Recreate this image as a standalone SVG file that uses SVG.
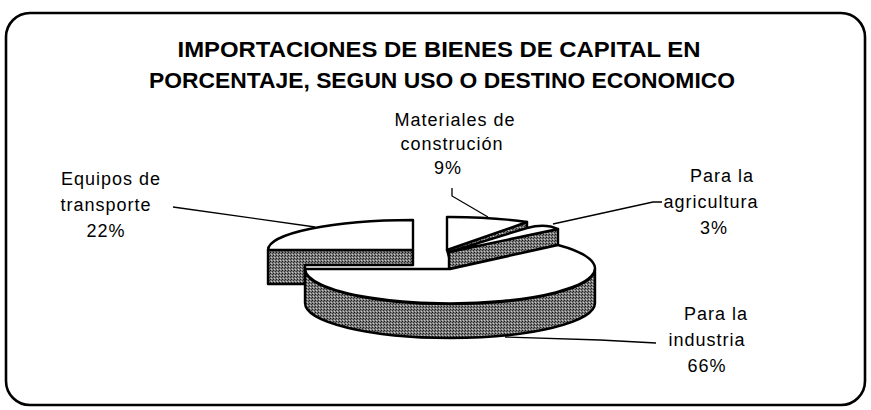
<svg xmlns="http://www.w3.org/2000/svg" width="871" height="410" viewBox="0 0 871 410">
<defs>
<pattern id="halftone" width="3" height="3" patternUnits="userSpaceOnUse">
<rect width="3" height="3" fill="#7c7c7c"/>
<rect x="0" y="0" width="1" height="1" fill="#1a1a1a"/>
<rect x="2" y="1" width="1" height="1" fill="#333333"/>
<rect x="1" y="2" width="1" height="1" fill="#c8c8c8"/>
</pattern>
</defs>
<style>
.frame{fill:#fff;stroke:#000;stroke-width:2.6}
.title{font-family:"Liberation Sans",Arial,sans-serif;font-weight:bold;font-size:22px;fill:#000;text-anchor:middle}
.lbl{font-family:"Liberation Sans",Arial,sans-serif;font-size:18px;letter-spacing:1px;fill:#000;text-anchor:middle}
.top{fill:#fff;stroke:#000;stroke-width:2.4;stroke-linejoin:round}
.side{fill:url(#halftone);stroke:#000;stroke-width:2.4;stroke-linejoin:round}
.lead{fill:none;stroke:#000;stroke-width:1.3}
</style>
<rect class="frame" x="6" y="13" width="859" height="392" rx="24" ry="24"/>
<g id="title">
<text class="title" x="439" y="57" textLength="523" lengthAdjust="spacingAndGlyphs">IMPORTACIONES DE BIENES DE CAPITAL EN</text>
<text class="title" x="442" y="88" textLength="586" lengthAdjust="spacingAndGlyphs">PORCENTAJE, SEGUN USO O DESTINO ECONOMICO</text>
</g>
<g id="slice-equipos">
<path class="side" d="M268,250 L413,250 L413,265 L305,265 L305,284 L268,284 Z"/>
<path class="top" d="M413,250 L268,250 A145,30 0 0 1 413,220 Z"/>
</g>
<g id="slice-materiales">
<path class="side" d="M447,250 L527,222 L527,229 L449,257 Z"/>
<path class="top" d="M447,250 L447,217 A145,33 0 0 1 527,222 Z"/>
</g>
<g id="slice-agricultura">
<path class="side" d="M449,252 L558,229 L558,245 L449,269 Z"/>
<path class="top" d="M449,252 L527,228 Q545,223 558,229 Z"/>
</g>
<g id="slice-industria">
<path class="side" d="M305,269 A145,35 0 0 0 595,269 L595,303 A145,35 0 0 1 305,303 Z"/>
<path class="top" d="M450,269 L305,269 A145,35 0 1 0 558,245 Z"/>
</g>
<g id="connectors">
<polyline class="lead" points="173,207 315,227"/>
<polyline class="lead" points="452,188 452,196 488,217"/>
<polyline class="lead" points="662,202 653,202 553,224"/>
<polyline class="lead" points="656,343 600,340 505,337"/>
</g>
<g id="label-equipos">
<text class="lbl" x="111" y="185">Equipos de</text>
<text class="lbl" x="106" y="211">transporte</text>
<text class="lbl" x="106" y="237">22%</text>
</g>
<g id="label-materiales">
<text class="lbl" x="455" y="126">Materiales de</text>
<text class="lbl" x="452" y="150">construción</text>
<text class="lbl" x="448" y="174">9%</text>
</g>
<g id="label-agricultura">
<text class="lbl" x="722" y="182">Para la</text>
<text class="lbl" x="711" y="208">agricultura</text>
<text class="lbl" x="714" y="234">3%</text>
</g>
<g id="label-industria">
<text class="lbl" x="716" y="320">Para la</text>
<text class="lbl" x="707" y="346">industria</text>
<text class="lbl" x="707" y="372">66%</text>
</g>
</svg>
